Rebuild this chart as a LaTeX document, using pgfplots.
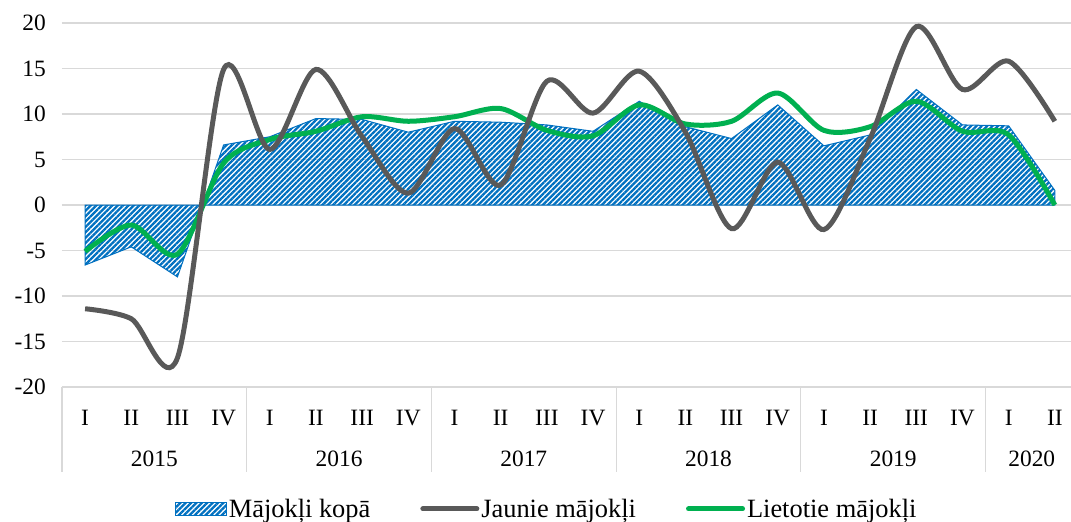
\documentclass[border=0pt]{standalone}
\usepackage{fontspec}
\setmainfont{Liberation Serif}
\usepackage{pgfplots}
\pgfplotsset{compat=1.18}
\usepackage{pgfplotstable}
\usetikzlibrary{patterns.meta}
\definecolor{cblue}{HTML}{0070C0}
\definecolor{cgray}{HTML}{595959}
\definecolor{cgreen}{HTML}{00B050}
\definecolor{cgrid}{HTML}{D9D9D9}

\pgfplotsset{
  linelegend/.style={legend image code/.code={\draw[##1, line cap=round] (0bp,0bp) -- (54bp,0bp);}},
  hatchlegend/.style={legend image code/.code={\draw[draw=cblue, line width=0.8bp,
    pattern={Lines[angle=45, distance=3.8bp, line width=2.3bp]}, pattern color=cblue]
    (0bp,-6.5bp) rectangle (51bp,6.5bp);}},
}

\pgfplotstableread{
x kopa jaunie lietotie
0  -6.6 -11.4 -5.1
1  -4.6 -12.5 -2.2
2  -7.9 -16.8 -5.4
3   6.6  14.9  4.6
4   7.5   6.1  7.2
5   9.5  14.9  8.1
6   9.4   7.5  9.7
7   8.0   1.3  9.2
8   9.2   8.4  9.7
9   9.1   2.2 10.6
10  8.8  13.6  8.2
11  8.1  10.1  7.6
12 11.4  14.7 11.0
13  8.6   8.0  8.9
14  7.3  -2.6  9.2
15 11.0   4.7 12.3
16  6.5  -2.7  8.2
17  7.7   7.3  8.6
18 12.7  19.6 11.4
19  8.8  12.7  8.1
20  8.7  15.8  7.7
21  1.6   9.2  0.0
}\datatable

\begin{document}
\begin{tikzpicture}[font=\fontsize{23.5}{27}\selectfont]
\begin{axis}[
  scale only axis,
  width=1009bp, height=364bp,
  xmin=-0.5, xmax=21.35,
  ymin=-20, ymax=20,
  ytick={-20,-15,...,20},
  yticklabels={-20,-15,-10,-5,0,5,10,15,20},
  yticklabel style={xshift=-12.6bp},
  xtick={0,...,21},
  xticklabels={I,II,III,IV,I,II,III,IV,I,II,III,IV,I,II,III,IV,I,II,III,IV,I,II},
  xticklabel style={anchor=center, yshift=-30.7bp},
  major tick length=0pt,
  ymajorgrids,
  grid style={cgrid, line width=1.2bp},
  axis line style={draw=none},
  clip mode=individual,
  legend columns=3,
  legend style={at={(axis description cs:0.4804,-0.335)}, anchor=center,
    draw=none, fill=none, font=\fontsize{26.5}{30}\selectfont,
    /tikz/every even column/.append style={column sep=48bp}},
]
\addplot[draw=cblue, line width=1bp,
  pattern={Lines[angle=45, distance=3.8bp, line width=2.3bp]}, pattern color=cblue,
  hatchlegend]
  table[x=x, y=kopa] {\datatable} \closedcycle;
\addlegendentry{Mājokļi kopā}
\addplot[cgreen, line width=5bp, smooth, tension=0.5, forget plot]
  table[x=x, y=lietotie] {\datatable};
\addplot[cgray, line width=5bp, smooth, tension=0.5, linelegend]
  table[x=x, y=jaunie] {\datatable};
\addlegendentry{Jaunie mājokļi}
\addlegendimage{cgreen, line width=5bp, linelegend}
\addlegendentry{Lietotie mājokļi}
\pgfplotsinvokeforeach{-0.5,3.5,7.5,11.5,15.5,19.5}{
  \draw[cgrid, line width=1.2bp] (axis cs:#1,-20) -- ++(0bp,-85bp);
}
\node at (axis cs:1.5,-20) [yshift=-72bp] {2015};
\node at (axis cs:5.5,-20) [yshift=-72bp] {2016};
\node at (axis cs:9.5,-20) [yshift=-72bp] {2017};
\node at (axis cs:13.5,-20) [yshift=-72bp] {2018};
\node at (axis cs:17.5,-20) [yshift=-72bp] {2019};
\node at (axis cs:20.5,-20) [yshift=-72bp] {2020};
\end{axis}
\pgfresetboundingbox
\path[use as bounding box] ([shift={(-62bp,-135bp)}]current axis.south west) rectangle ([shift={(0bp,23bp)}]current axis.north east);
\end{tikzpicture}
\end{document}
